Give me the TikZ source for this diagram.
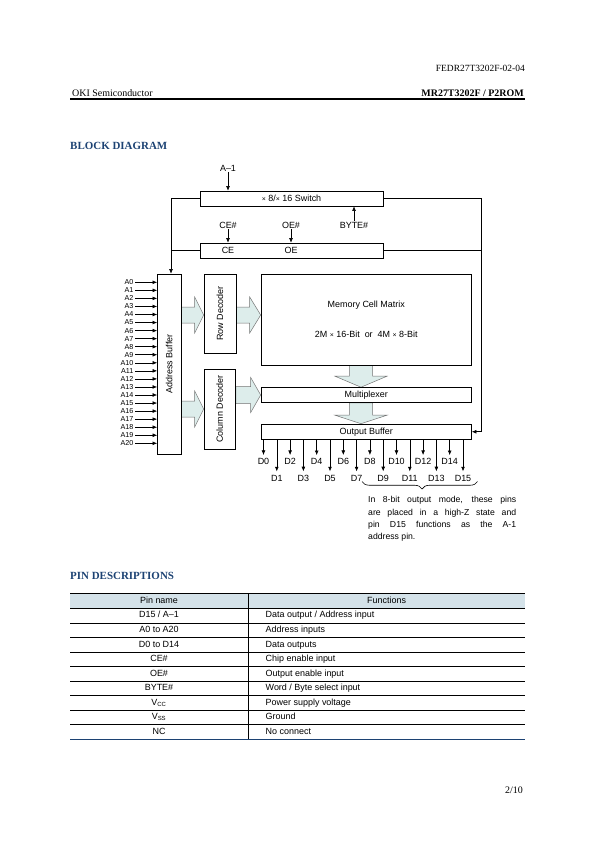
\documentclass[tikz,border=0pt]{standalone}
\usepackage{fontspec}
\usepackage{graphicx}
\setmainfont{Liberation Serif}
\setsansfont{Liberation Sans}
\usetikzlibrary{arrows.meta,calc,decorations.pathreplacing}

\definecolor{okiblue}{RGB}{28,66,115}
\definecolor{fatfill}{RGB}{221,237,235}
\definecolor{headfill}{RGB}{212,226,233}

\newcommand{\blkfont}{\sffamily\fontsize{9}{10}\selectfont}
\newcommand{\pinfont}{\sffamily\fontsize{7.2}{8}\selectfont}

\pgfdeclarelayer{bg}
\pgfsetlayers{bg,main}

\tikzset{
  wire/.style = {line width=0.6bp},
  arr/.style  = {wire, -{Latex[length=4.6bp,width=3.8bp]}},
  blk/.style  = {draw, wire, inner sep=0pt, font=\blkfont},
  lbl/.style  = {inner sep=1bp, font=\blkfont},
  pin/.style  = {inner sep=1.5bp, anchor=east, font=\pinfont},
  dlbl/.style = {inner xsep=0pt, inner ysep=3.3bp, font=\blkfont},
  fat/.style  = {fill=fatfill, draw=black!55, line width=0.5bp},
  tbl/.style  = {inner sep=0pt, text height=6.4bp, text depth=1.8bp, font=\blkfont}
}

% fat arrows: from, tip, head length, shaft half, head half
\newcommand{\hfat}[5]{%
  \filldraw[fat] let \p1=(#1), \p2=(#2) in
    (\x1,\y2+#4bp) -- (\x2-#3bp,\y2+#4bp) -- (\x2-#3bp,\y2+#5bp) -- (\x2,\y2)
    -- (\x2-#3bp,\y2-#5bp) -- (\x2-#3bp,\y2-#4bp) -- (\x1,\y2-#4bp) -- cycle;}
\newcommand{\vfat}[5]{%
  \filldraw[fat] let \p1=(#1), \p2=(#2) in
    (\x2-#4bp,\y1) -- (\x2-#4bp,\y2+#3bp) -- (\x2-#5bp,\y2+#3bp) -- (\x2,\y2)
    -- (\x2+#5bp,\y2+#3bp) -- (\x2+#4bp,\y2+#3bp) -- (\x2+#4bp,\y1) -- cycle;}

\begin{document}
\begin{tikzpicture}[x=1bp, y=-1bp]
	\def \pinx{135}
	\def \ay{282.3}
	\def \ap{8.05}
	\def \dx{263.5}
	\def \dstep{13.3}
	\def \ev{461.7}
	\def \od{478}
	\def \rh{14.55}
	\def \ry{615.6}

	\useasboundingbox (0,0) rectangle (595,842);

	% Page header
	\node[anchor=base east, inner sep=0, font=\fontsize{9.5}{11}\selectfont] (docno) at (525,71.5) {FEDR27T3202F-02-04};
	\node[anchor=base west, inner sep=0, font=\fontsize{10}{12}\selectfont] (maker) at (72,96) {OKI Semiconductor};
	\node[anchor=base east, inner sep=0, font=\bfseries\fontsize{10}{12}\selectfont] (part) at (524,96) {MR27T3202F / P2ROM};
	\draw[line width=1.1bp] (70,99) -- (525,99);

	\node[anchor=base west, inner sep=0, text=okiblue, font=\bfseries\fontsize{11}{13}\selectfont] (bdtitle) at (70,149) {BLOCK DIAGRAM};

	% Switch and control
	\node[blk, minimum width=183bp, minimum height=15bp] (sw) at (291.5,198.5) {{\scriptsize ×} 8/{\scriptsize ×} 16 Switch};
	\node[blk, minimum width=183bp, minimum height=15bp] (ctl) at (291.5,250.5) {};
	\node[lbl] (ce) at (228,250.5) {CE};
	\node[lbl] (oe) at (291,250.5) {OE};

	\node[lbl] (am1) at (228,168) {A–1};
	\node[lbl] (cepin) at (228,225) {CE\#};
	\node[lbl] (oepin) at (291,225) {OE\#};
	\node[lbl] (bytepin) at (354,225) {BYTE\#};
	\draw[arr] (am1) -- (am1 |- sw.north);
	\draw[arr] (cepin) -- (cepin |- ctl.north);
	\draw[arr] (oepin) -- (oepin |- ctl.north);
	\draw[arr] (bytepin) -- (bytepin |- sw.south);

	% Blocks
	\node[blk, minimum width=23.5bp, minimum height=180bp] (ab) at (169.25,364) {\rotatebox{90}{Address Buffer}};
	\node[blk, minimum width=32bp, minimum height=79bp] (rd) at (220,313.5) {\rotatebox{90}{Row Decoder}};
	\node[blk, minimum width=31.5bp, minimum height=80bp] (cd) at (219.75,409) {\rotatebox{90}{Column Decoder}};
	\node[blk, minimum width=210.5bp, minimum height=91bp, align=center] (mem) at (366.25,319.5) {Memory Cell Matrix\\[20bp]2M {\scriptsize ×} 16-Bit\ \ or\ \ 4M {\scriptsize ×} 8-Bit};
	\node[blk, minimum width=210.5bp, minimum height=15bp] (mux) at (366.25,395) {Multiplexer};
	\node[blk, minimum width=210.5bp, minimum height=15.5bp] (ob) at (366.25,431.75) {Output Buffer};

	% Side buses
	\coordinate (lbus) at (171,0);
	\coordinate (rbus) at (481,0);
	\draw[arr] (sw.west) -| (lbus |- ab.north);
	\draw[wire] (ctl.west) -- (ctl.west -| lbus);
	\draw[arr] (sw.east) -| (rbus |- ob.east) -- (ob.east);
	\draw[wire] (ctl.east) -- (ctl.east -| rbus);

	% Fat arrows
	\coordinate (rowlvl) at (0,315);
	\coordinate (collvl) at (361,0);
	\begin{pgfonlayer}{bg}
	\hfat{ab.east}{rd.west |- rowlvl}{9}{8}{18}
	\hfat{rd.east}{mem.west |- rowlvl}{11}{8}{18}
	\hfat{ab.east}{cd.west}{9}{8}{18}
	\hfat{cd.east}{mux.west}{10}{8.5}{17.5}
	\vfat{mem.south}{mux.north -| collvl}{11}{11.7}{26}
	\vfat{mux.south}{ob.north -| collvl}{8.5}{11.7}{26}
	\end{pgfonlayer}

	% Address inputs
	\node[pin] (a0) at (\pinx,\ay+0*\ap) {A0};   \draw[arr] (a0) -- (a0 -| ab.west);
	\node[pin] (a1) at (\pinx,\ay+1*\ap) {A1};   \draw[arr] (a1) -- (a1 -| ab.west);
	\node[pin] (a2) at (\pinx,\ay+2*\ap) {A2};   \draw[arr] (a2) -- (a2 -| ab.west);
	\node[pin] (a3) at (\pinx,\ay+3*\ap) {A3};   \draw[arr] (a3) -- (a3 -| ab.west);
	\node[pin] (a4) at (\pinx,\ay+4*\ap) {A4};   \draw[arr] (a4) -- (a4 -| ab.west);
	\node[pin] (a5) at (\pinx,\ay+5*\ap) {A5};   \draw[arr] (a5) -- (a5 -| ab.west);
	\node[pin] (a6) at (\pinx,\ay+6*\ap) {A6};   \draw[arr] (a6) -- (a6 -| ab.west);
	\node[pin] (a7) at (\pinx,\ay+7*\ap) {A7};   \draw[arr] (a7) -- (a7 -| ab.west);
	\node[pin] (a8) at (\pinx,\ay+8*\ap) {A8};   \draw[arr] (a8) -- (a8 -| ab.west);
	\node[pin] (a9) at (\pinx,\ay+9*\ap) {A9};   \draw[arr] (a9) -- (a9 -| ab.west);
	\node[pin] (a10) at (\pinx,\ay+10*\ap) {A10}; \draw[arr] (a10) -- (a10 -| ab.west);
	\node[pin] (a11) at (\pinx,\ay+11*\ap) {A11}; \draw[arr] (a11) -- (a11 -| ab.west);
	\node[pin] (a12) at (\pinx,\ay+12*\ap) {A12}; \draw[arr] (a12) -- (a12 -| ab.west);
	\node[pin] (a13) at (\pinx,\ay+13*\ap) {A13}; \draw[arr] (a13) -- (a13 -| ab.west);
	\node[pin] (a14) at (\pinx,\ay+14*\ap) {A14}; \draw[arr] (a14) -- (a14 -| ab.west);
	\node[pin] (a15) at (\pinx,\ay+15*\ap) {A15}; \draw[arr] (a15) -- (a15 -| ab.west);
	\node[pin] (a16) at (\pinx,\ay+16*\ap) {A16}; \draw[arr] (a16) -- (a16 -| ab.west);
	\node[pin] (a17) at (\pinx,\ay+17*\ap) {A17}; \draw[arr] (a17) -- (a17 -| ab.west);
	\node[pin] (a18) at (\pinx,\ay+18*\ap) {A18}; \draw[arr] (a18) -- (a18 -| ab.west);
	\node[pin] (a19) at (\pinx,\ay+19*\ap) {A19}; \draw[arr] (a19) -- (a19 -| ab.west);
	\node[pin] (a20) at (\pinx,\ay+20*\ap) {A20}; \draw[arr] (a20) -- (a20 -| ab.west);

	% Data outputs
	\node[dlbl] (d0) at (\dx+0*\dstep,\ev) {D0};    \draw[arr] (ob.south -| d0.north) -- (d0.north);
	\node[dlbl] (d1) at (\dx+1*\dstep,\od) {D1};    \draw[arr] (ob.south -| d1.north) -- (d1.north);
	\node[dlbl] (d2) at (\dx+2*\dstep,\ev) {D2};    \draw[arr] (ob.south -| d2.north) -- (d2.north);
	\node[dlbl] (d3) at (\dx+3*\dstep,\od) {D3};    \draw[arr] (ob.south -| d3.north) -- (d3.north);
	\node[dlbl] (d4) at (\dx+4*\dstep,\ev) {D4};    \draw[arr] (ob.south -| d4.north) -- (d4.north);
	\node[dlbl] (d5) at (\dx+5*\dstep,\od) {D5};    \draw[arr] (ob.south -| d5.north) -- (d5.north);
	\node[dlbl] (d6) at (\dx+6*\dstep,\ev) {D6};    \draw[arr] (ob.south -| d6.north) -- (d6.north);
	\node[dlbl] (d7) at (\dx+7*\dstep,\od) {D7};    \draw[arr] (ob.south -| d7.north) -- (d7.north);
	\node[dlbl] (d8) at (\dx+8*\dstep,\ev) {D8};    \draw[arr] (ob.south -| d8.north) -- (d8.north);
	\node[dlbl] (d9) at (\dx+9*\dstep,\od) {D9};    \draw[arr] (ob.south -| d9.north) -- (d9.north);
	\node[dlbl] (d10) at (\dx+10*\dstep,\ev) {D10}; \draw[arr] (ob.south -| d10.north) -- (d10.north);
	\node[dlbl] (d11) at (\dx+11*\dstep,\od) {D11}; \draw[arr] (ob.south -| d11.north) -- (d11.north);
	\node[dlbl] (d12) at (\dx+12*\dstep,\ev) {D12}; \draw[arr] (ob.south -| d12.north) -- (d12.north);
	\node[dlbl] (d13) at (\dx+13*\dstep,\od) {D13}; \draw[arr] (ob.south -| d13.north) -- (d13.north);
	\node[dlbl] (d14) at (\dx+14*\dstep,\ev) {D14}; \draw[arr] (ob.south -| d14.north) -- (d14.north);
	\node[dlbl] (d15) at (\dx+15*\dstep,\od) {D15}; \draw[arr] (ob.south -| d15.north) -- (d15.north);

	% Brace and note
	\coordinate (brl) at (362,481.5);
	\coordinate (brr) at (477.5,481.5);
	\draw[wire, decorate, decoration={brace, mirror, amplitude=7.5bp, aspect=0.52}] (brl) -- (brr);
	\node[anchor=north west, inner sep=0, text width=148bp, align=justify, font=\sffamily\fontsize{8.7}{12.3}\selectfont] (note) at (368,496.5)
		{In 8-bit output mode, these pins\linebreak are placed in a high-Z state and\linebreak pin D15 functions as the A-1\linebreak address pin.};

	% Pin descriptions
	\node[anchor=base west, inner sep=0, text=okiblue, font=\bfseries\fontsize{11}{13}\selectfont] (pdtitle) at (70,579) {PIN DESCRIPTIONS};

	\fill[headfill] (70,593.3) rectangle (525,608.3);
	\draw[line width=1bp] (70,593.3) -- (525,593.3);
	\draw[wire] (70,\ry-0.5*\rh) -- (525,\ry-0.5*\rh);
	\draw[wire] (70,\ry+0.5*\rh) -- (525,\ry+0.5*\rh);
	\draw[wire] (70,\ry+1.5*\rh) -- (525,\ry+1.5*\rh);
	\draw[wire] (70,\ry+2.5*\rh) -- (525,\ry+2.5*\rh);
	\draw[wire] (70,\ry+3.5*\rh) -- (525,\ry+3.5*\rh);
	\draw[wire] (70,\ry+4.5*\rh) -- (525,\ry+4.5*\rh);
	\draw[wire] (70,\ry+5.5*\rh) -- (525,\ry+5.5*\rh);
	\draw[wire] (70,\ry+6.5*\rh) -- (525,\ry+6.5*\rh);
	\draw[wire] (70,\ry+7.5*\rh) -- (525,\ry+7.5*\rh);
	\draw[okiblue, line width=1.5bp] (70,\ry+8.5*\rh) -- (525,\ry+8.5*\rh);
	\draw[wire] (248.3,593.3) -- (248.3,\ry+8.5*\rh);

	\node[tbl] (hpin) at (159,600.8) {Pin name};
	\node[tbl] (hfun) at (386.6,600.8) {Functions};
	\node[tbl] (p0) at (159,\ry+0*\rh) {D15 / A–1};        \node[tbl, anchor=west] (f0) at (265.5,\ry+0*\rh) {Data output / Address input};
	\node[tbl] (p1) at (159,\ry+1*\rh) {A0 to A20};        \node[tbl, anchor=west] (f1) at (265.5,\ry+1*\rh) {Address inputs};
	\node[tbl] (p2) at (159,\ry+2*\rh) {D0 to D14};        \node[tbl, anchor=west] (f2) at (265.5,\ry+2*\rh) {Data outputs};
	\node[tbl] (p3) at (159,\ry+3*\rh) {CE\#};             \node[tbl, anchor=west] (f3) at (265.5,\ry+3*\rh) {Chip enable input};
	\node[tbl] (p4) at (159,\ry+4*\rh) {OE\#};             \node[tbl, anchor=west] (f4) at (265.5,\ry+4*\rh) {Output enable input};
	\node[tbl] (p5) at (159,\ry+5*\rh) {BYTE\#};           \node[tbl, anchor=west] (f5) at (265.5,\ry+5*\rh) {Word / Byte select input};
	\node[tbl] (p6) at (159,\ry+6*\rh) {V\textsubscript{CC}}; \node[tbl, anchor=west] (f6) at (265.5,\ry+6*\rh) {Power supply voltage};
	\node[tbl] (p7) at (159,\ry+7*\rh) {V\textsubscript{SS}}; \node[tbl, anchor=west] (f7) at (265.5,\ry+7*\rh) {Ground};
	\node[tbl] (p8) at (159,\ry+8*\rh) {NC};               \node[tbl, anchor=west] (f8) at (265.5,\ry+8*\rh) {No connect};

	% Page number
	\node[anchor=base east, inner sep=0, font=\fontsize{10}{12}\selectfont] (pageno) at (523,793.5) {2/10};
\end{tikzpicture}
\end{document}
